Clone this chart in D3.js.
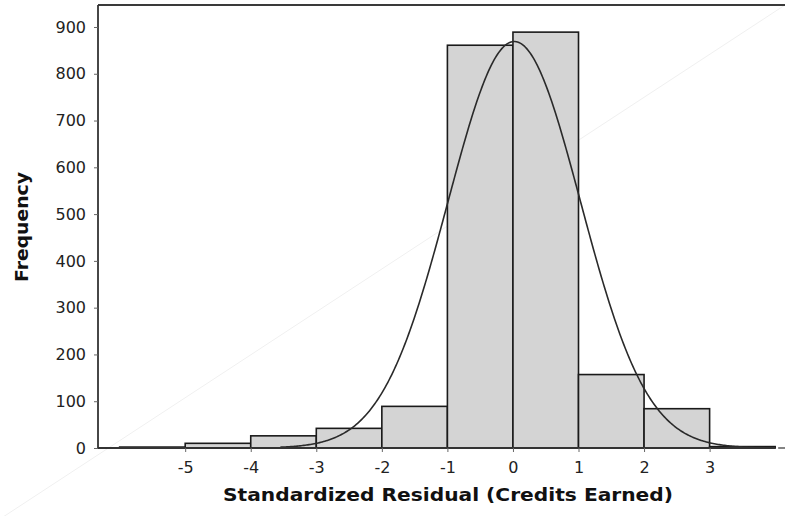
<!DOCTYPE html>
<head>
  <meta charset="utf-8">
  <style>
  body { margin: 0; background: #fff; }
  .bars rect { fill: #d4d4d4; stroke: #1a1a1a; stroke-width: 1.6px; }
  .fit { fill: none; stroke: #2a2a2a; stroke-width: 1.6px; }
  .tick-label { font-family: "DejaVu Sans", sans-serif; font-size: 16px; fill: #222; }
  .axis-title { font-family: "DejaVu Sans", sans-serif; font-size: 17px; font-weight: bold; fill: #111; }
  </style>
  <script src="https://d3js.org/d3.v7.min.js"></script>
</head>
<body>
  <svg width="785" height="516"></svg>
  <script>

  // histogram bins (lower, upper edge) and counts
  var binStart = [-6, -5, -4, -3, -2, -1, 0, 1, 2, 3];
  var binEnd   = [-5, -4, -3, -2, -1, 0, 1, 2, 3, 4];
  var counts   = [2, 10, 26, 42, 89, 861, 889, 157, 84, 3];

  // fitted normal curve parameters
  var fitMean = 0.02, fitSd = 1.01, fitN = 2200, fitFrom = -3.55, fitTo = 3.9;

  var xTicks = [-5, -4, -3, -2, -1, 0, 1, 2, 3];
  var yTicks = [0, 100, 200, 300, 400, 500, 600, 700, 800, 900];

  var svg = d3.select("svg");

  var x = d3.scaleLinear().domain([-6.33, 4.15]).range([98, 785]);
  var y = d3.scaleLinear().domain([0, 947]).range([448, 5]);

  // faint diagonal line in the background
  svg.append("line")
    .attr("x1", 0).attr("y1", 519).attr("x2", 785).attr("y2", 5)
    .attr("stroke", "#f0f0f0").attr("stroke-width", 1);

  var bins = counts.map(function(c, i) { return {x0: binStart[i], x1: binEnd[i], n: c}; });

  svg.append("g")
    .attr("class", "bars")
    .selectAll("rect")
    .data(bins)
    .enter().append("rect")
    .attr("x", function(d) { return x(d.x0); })
    .attr("width", function(d) { return x(d.x1) - x(d.x0); })
    .attr("y", function(d) { return y(d.n); })
    .attr("height", function(d) { return y(0) - y(d.n); });

  // normal fit
  var pts = d3.range(fitFrom, fitTo + 0.001, 0.02).map(function(v) {
    var z = (v - fitMean) / fitSd;
    return [v, fitN * Math.exp(-0.5 * z * z) / (fitSd * Math.sqrt(2 * Math.PI))];
  });
  svg.append("path")
    .attr("class", "fit")
    .attr("d", d3.line().x(function(d) { return x(d[0]); }).y(function(d) { return y(d[1]); })(pts));

  // frame: top line and left axis
  svg.append("line")
    .attr("x1", x.range()[0]).attr("x2", 785).attr("y1", 5).attr("y2", 5)
    .attr("stroke", "#3a3a3a").attr("stroke-width", 2);

  var yAxis = svg.append("g").attr("transform", "translate(" + x.range()[0] + ",0)")
    .call(d3.axisLeft(y).tickValues(yTicks).tickSize(4).tickPadding(8));
  yAxis.select(".domain").attr("d", "M0," + y.range()[1] + "V" + y.range()[0]);

  var xAxis = svg.append("g").attr("transform", "translate(0," + y(0) + ")")
    .call(d3.axisBottom(x).tickValues(xTicks).tickSize(4).tickPadding(10)
      .tickFormat(function(d) { return d; }));
  xAxis.select(".domain").attr("d", "M" + x.range()[0] + ",0H" + x(4));
  xAxis.append("line").attr("x1", x(4) + 3).attr("x2", 785).attr("y1", 0).attr("y2", 0)
    .attr("stroke", "#333").attr("stroke-width", 1.2);

  [yAxis, xAxis].forEach(function(a) {
    a.select(".domain").attr("stroke", "#333").attr("stroke-width", 1.8);
    a.selectAll(".tick line").attr("stroke", "#666");
    a.selectAll(".tick text").attr("class", "tick-label").attr("font-family", null).attr("font-size", null);
  });

  svg.append("text")
    .attr("class", "axis-title")
    .attr("x", 448).attr("y", 501)
    .attr("text-anchor", "middle")
    .attr("textLength", 450)
    .attr("lengthAdjust", "spacingAndGlyphs")
    .text("Standardized Residual (Credits Earned)");

  svg.append("text")
    .attr("class", "axis-title")
    .attr("transform", "translate(28,227) rotate(-90)")
    .attr("text-anchor", "middle")
    .attr("textLength", 110)
    .attr("lengthAdjust", "spacingAndGlyphs")
    .text("Frequency");

  </script>
</body>
